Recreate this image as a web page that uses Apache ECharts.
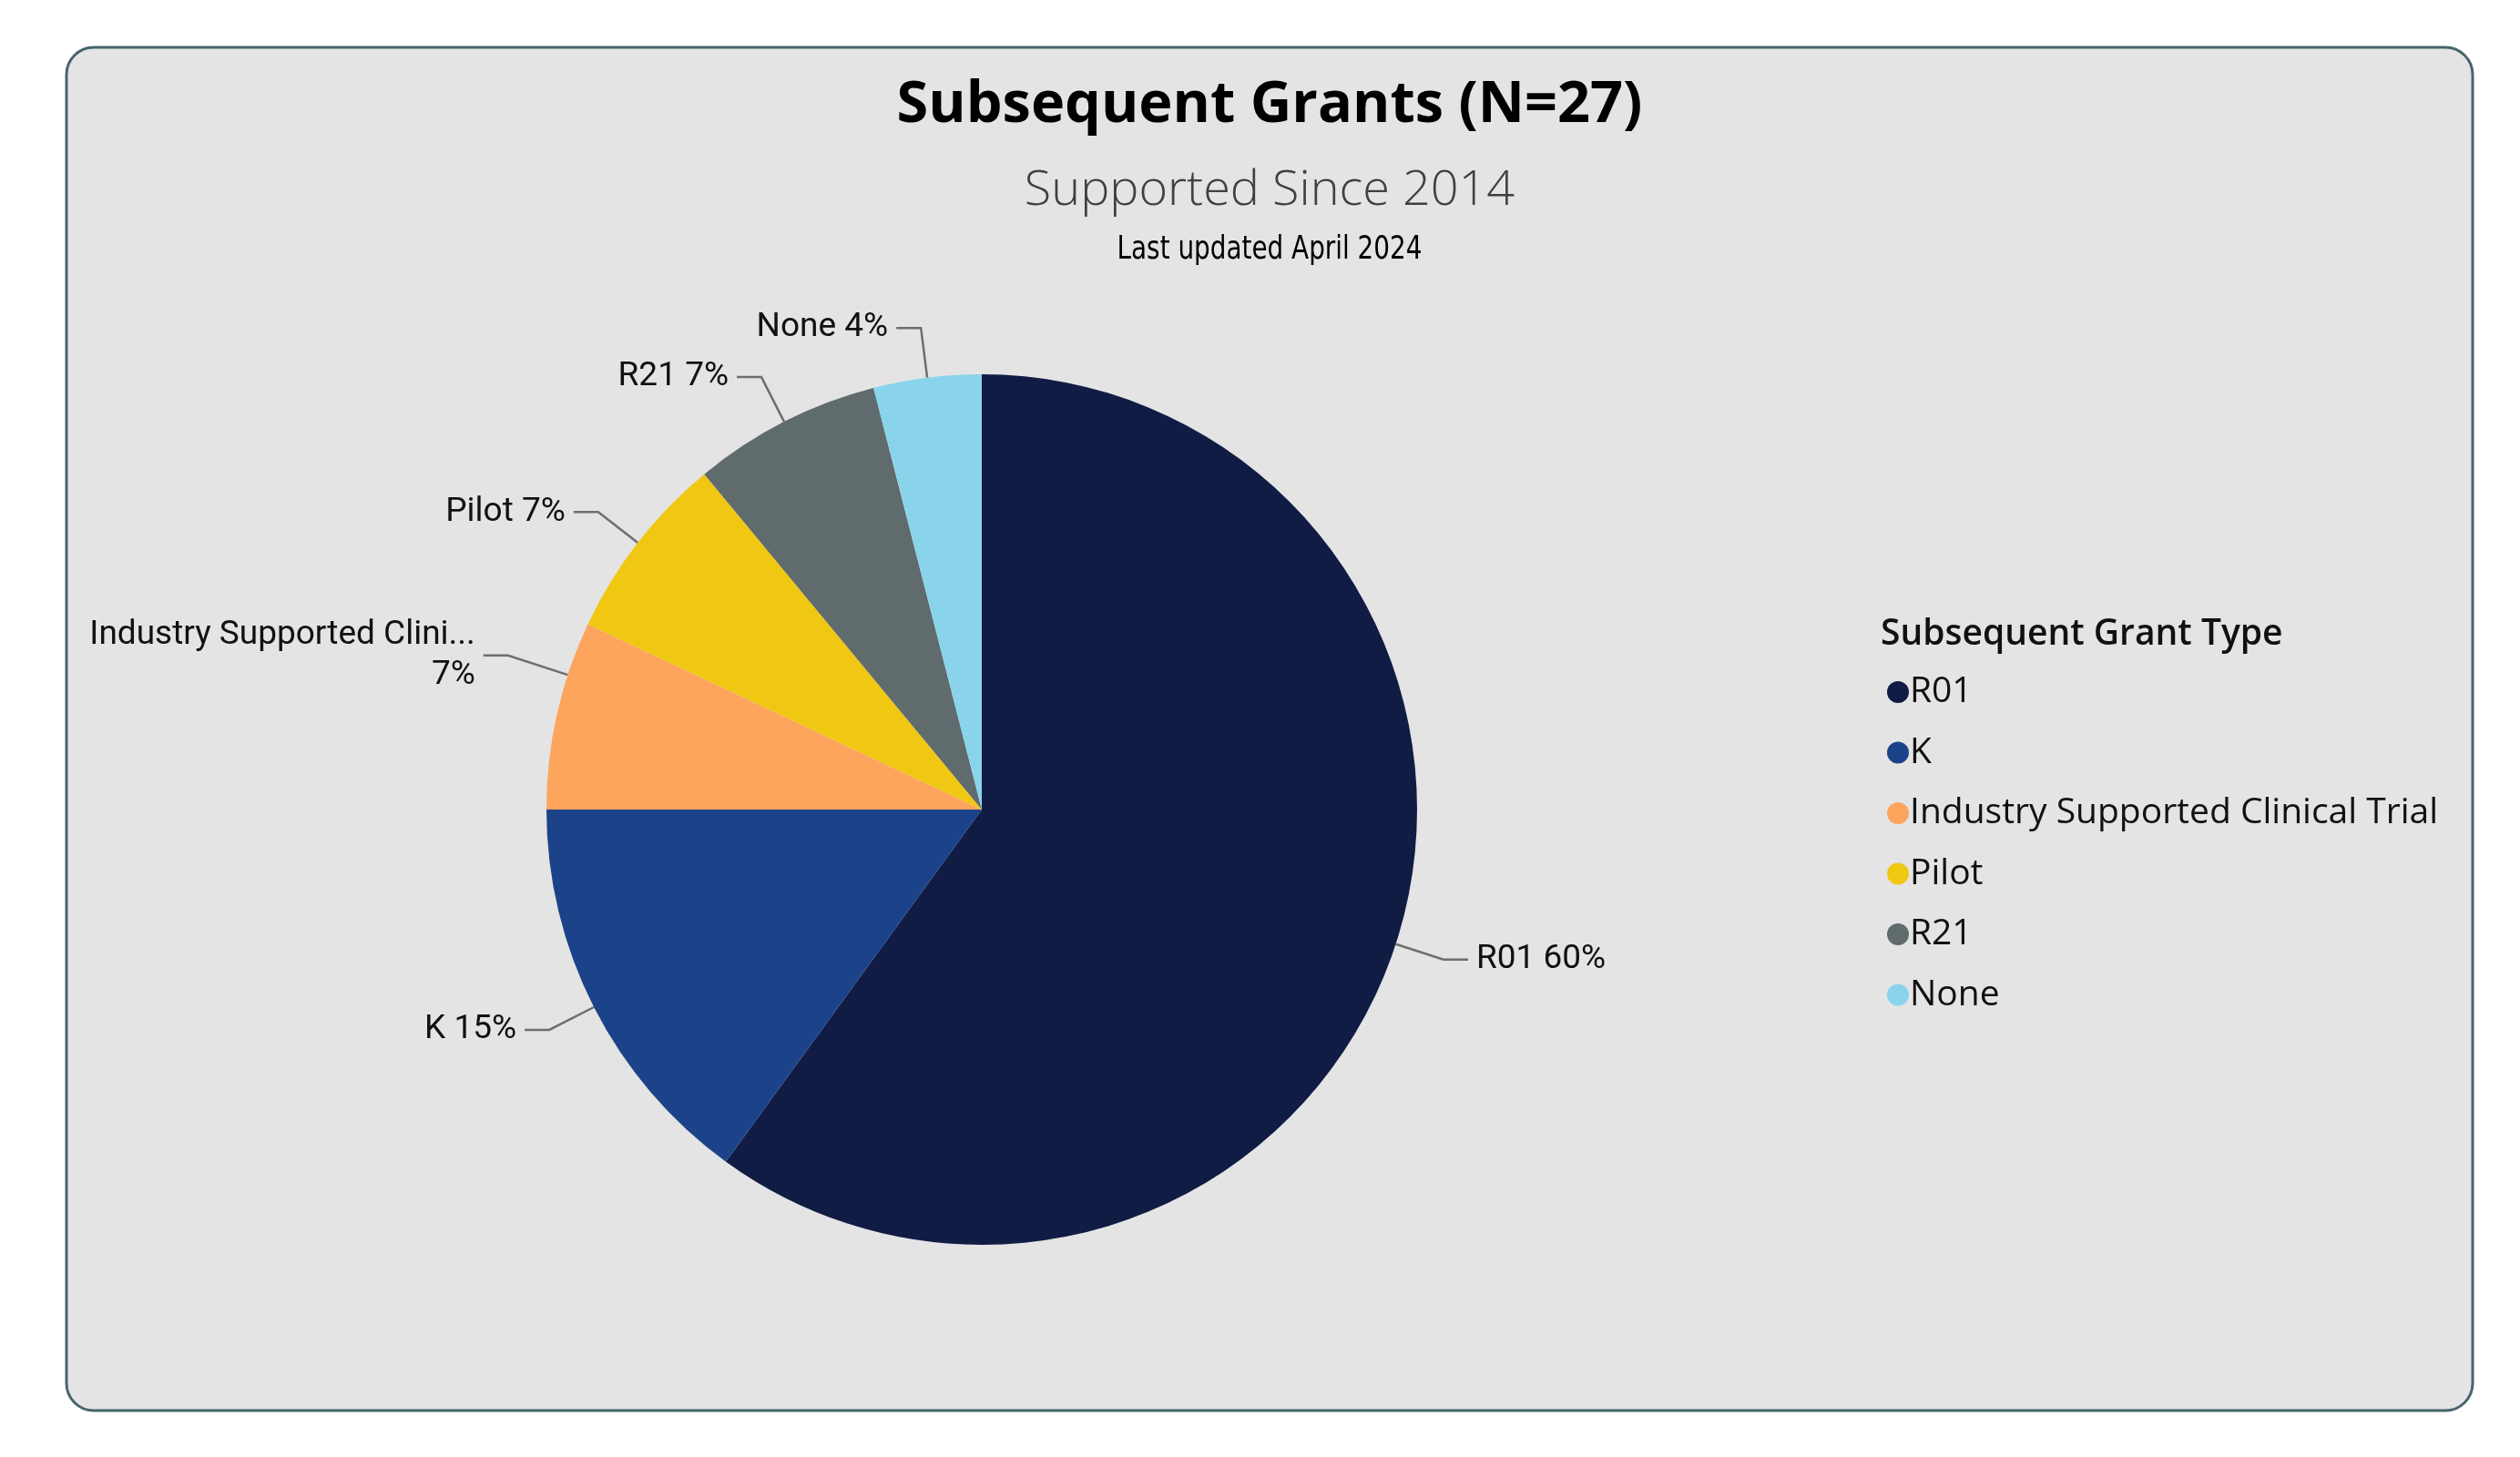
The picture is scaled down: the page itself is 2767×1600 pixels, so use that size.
<!DOCTYPE html>
<html><head><meta charset="utf-8">
<script src="https://cdn.jsdelivr.net/npm/echarts@6/dist/echarts.min.js"></script>
<style>html,body{margin:0;padding:0;background:#fff}#c{width:2767px;height:1600px}</style>
</head><body><div id="c"></div>
<script>
const categories = ['R01', 'K', 'Industry Supported Clinical Trial', 'Pilot', 'R21', 'None'];
const percentValues = [60, 15, 7, 7, 7, 4];
const sliceColors = ['#111C45', '#1C4389', '#FDA55D', '#F0C814', '#5F6B6D', '#8AD4EB'];
const titleText = 'Subsequent Grants (N=27)';
const subtitleText = 'Supported Since 2014';
const noteText = 'Last updated April 2024';
const legendTitle = 'Subsequent Grant Type';

const PIE_CX = 1078, PIE_CY = 889, PIE_R = 478;

const chart = echarts.init(document.getElementById('c'), null, {renderer: 'canvas'});
const pieData = categories.map((c, i) => ({name: c, value: percentValues[i], itemStyle: {color: sliceColors[i]}}));

chart.setOption({
  backgroundColor: '#ffffff',
  animation: false,
  graphic: [
    {type: 'rect', z: -10, shape: {x: 73, y: 52, width: 2642, height: 1497, r: 30},
     style: {fill: '#E4E4E4', stroke: '#46656D', lineWidth: 3}},
    {type: 'text', x: 1394, y: 116, style: {text: titleText, font: 'bold 63px "Open Sans"', fill: '#000', textAlign: 'center', textVerticalAlign: 'middle'}},
    {type: 'text', x: 1394, y: 210, style: {text: subtitleText, font: '300 54px "Open Sans"', fill: '#404040', textAlign: 'center', textVerticalAlign: 'middle'}},
    {type: 'text', x: 1394, y: 275, scaleX: 0.86, style: {text: noteText, font: '500 36px "Liberation Sans Narrow", "DejaVu Sans Condensed"', fill: '#000', textAlign: 'center', textVerticalAlign: 'middle'}},
    {type: 'text', x: 2065, y: 697, style: {text: legendTitle, font: '600 39px "Open Sans"', fill: '#111', textAlign: 'left', textVerticalAlign: 'middle'}}
  ],
  legend: {
    orient: 'vertical',
    left: 2067,
    top: 735,
    data: categories,
    icon: 'circle',
    itemWidth: 24,
    itemHeight: 24,
    itemGap: 26.5,
    selectedMode: false,
    textStyle: {fontFamily: 'Open Sans', fontSize: 39, lineHeight: 40, color: '#111', padding: [0, 0, 0, -4]}
  },
  series: [{
    type: 'pie',
    center: [PIE_CX, PIE_CY],
    radius: PIE_R,
    startAngle: 90,
    clockwise: true,
    silent: true,
    data: pieData,
    label: {
      show: true,
      color: '#111',
      fontFamily: 'Roboto',
      fontSize: 37,
      lineHeight: 44,
      distanceToLabelLine: 9,
      formatter: p => (p.name.length > 24 ? p.name.slice(0, 24) + '...\n' : p.name + ' ') + Math.round(p.percent) + '%'
    },
    labelLine: {show: true, length: 55, length2: 27, lineStyle: {color: '#6e6e6e', width: 2.5}},
    labelLayout: p => {
      if (p.dataIndex !== 2 || !p.labelLinePoints) return {};
      const dy = -53;
      const pts = p.labelLinePoints.map(q => [q[0], q[1]]);
      pts[1][1] += dy; pts[2][1] += dy;
      const vx = pts[1][0] - PIE_CX, vy = pts[1][1] - PIE_CY, L = Math.hypot(vx, vy);
      pts[0] = [PIE_CX + vx / L * PIE_R, PIE_CY + vy / L * PIE_R];
      return {dy: dy, labelLinePoints: pts};
    },
    emphasis: {disabled: true}
  }]
});
</script></body></html>
